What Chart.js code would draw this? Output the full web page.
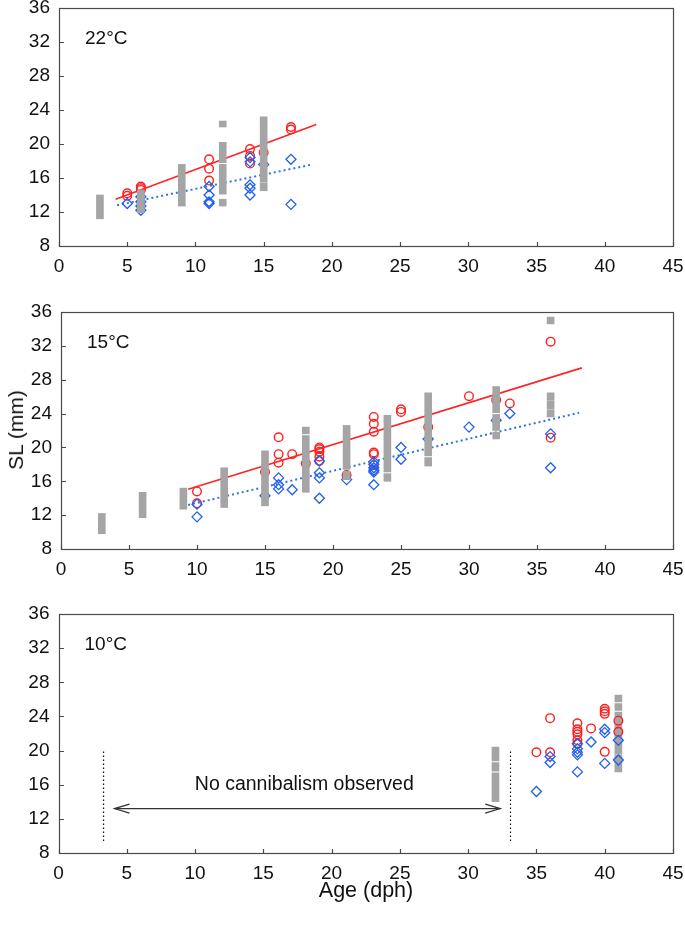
<!DOCTYPE html>
<html>
<head>
<meta charset="utf-8">
<script src="https://cdn.jsdelivr.net/npm/chart.js@4.4.1/dist/chart.umd.min.js"></script>
<style>
  html, body { margin: 0; padding: 0; background: #fff; }
  body { width: 685px; height: 926px; position: relative; overflow: hidden;
         font-family: 'Liberation Sans', Arial, Helvetica, sans-serif; color: #111; }
  canvas { position: absolute; left: 0; }
  #ytitle { position: absolute; left: 16px; top: 430px; transform: translate(-50%, -50%) rotate(-90deg);
            font-size: 21px; white-space: nowrap; }
  #xtitle { position: absolute; left: 366px; top: 890px; transform: translate(-50%, -50%);
            font-size: 21.5px; white-space: nowrap; }
</style>
</head>
<body>
<canvas id="c1" width="685" height="303" style="top:0px"></canvas>
<canvas id="c2" width="685" height="303" style="top:303px"></canvas>
<canvas id="c3" width="685" height="320" style="top:606px"></canvas>
<div id="ytitle">SL (mm)</div>
<div id="xtitle">Age (dph)</div>
<script>
// ---------- tick labels ----------
const xTickValues = [0, 5, 10, 15, 20, 25, 30, 35, 40, 45];
const yTickValues = [8, 12, 16, 20, 24, 28, 32, 36];
const panelLabels = ['22°C', '15°C', '10°C'];

// ---------- 22 °C ----------
const gray22Age  = [3, 6, 9, 12, 12, 12, 12, 15, 15];
const gray22Low  = [11.2, 11.9, 12.7, 12.7, 14.1, 17.8, 22.0, 14.5, 15.5];
const gray22High = [14.0, 14.6, 17.6, 13.5, 17.6, 20.2, 22.7, 15.4, 23.2];
const red22Age  = [5, 5, 6, 6, 6, 11, 11, 11, 14, 14, 14, 15, 17, 17];
const red22SL   = [13.9, 14.2, 14.6, 14.8, 15.0, 18.2, 17.1, 15.7, 19.4, 18.6, 17.7, 19.0, 22.0, 21.7];
const blue22Age = [5, 6, 6, 6, 6, 11, 11, 11, 11, 14, 14, 14, 14, 14, 15, 17, 17];
const blue22SL  = [13.0, 12.2, 12.7, 13.2, 13.8, 15.0, 14.0, 13.2, 13.0, 18.4, 17.9, 15.2, 14.8, 14.0, 17.6, 18.2, 12.9];
const redFit22Age  = [4.15, 18.85];
const redFit22SL   = [13.5, 22.3];
const blueFit22Age = [4.26, 18.6];
const blueFit22SL  = [12.8, 17.6];

// ---------- 15 °C ----------
const gray15Age  = [3, 6, 9, 12, 15, 18, 18, 21, 21, 24, 24, 27, 27, 32, 32, 32, 36, 36, 36, 36];
const gray15Low  = [9.8, 11.7, 12.7, 12.9, 13.1, 14.7, 21.6, 16.2, 17.4, 16.0, 17.1, 17.8, 19.0, 21.0, 22.0, 24.1, 23.6, 24.55, 25.55, 34.6];
const gray15High = [12.2, 14.7, 15.2, 17.6, 19.6, 21.4, 22.4, 17.2, 22.6, 16.9, 23.8, 18.8, 26.45, 21.8, 23.9, 27.2, 24.45, 25.45, 26.45, 35.4];
const red15Age  = [10, 10, 15, 16, 16, 16, 17, 18, 19, 19, 19, 19, 19, 21, 23, 23, 23, 23, 23, 23, 25, 25, 27, 30, 32, 33, 36, 36];
const red15SL   = [14.8, 13.4, 17.1, 21.2, 19.2, 18.2, 19.2, 18.1, 20.0, 19.8, 19.5, 18.9, 18.4, 16.75, 23.6, 22.8, 21.85, 19.4, 19.2, 17.9, 24.5, 24.2, 22.4, 26.05, 25.6, 25.2, 32.5, 21.15];
const blue15Age = [10, 10, 15, 16, 16, 16, 17, 19, 19, 19, 19, 21, 23, 23, 23, 23, 23, 23, 25, 25, 27, 30, 32, 33, 36, 36];
const blue15SL  = [13.3, 11.8, 14.3, 16.4, 15.6, 15.1, 15.0, 18.4, 17.0, 16.4, 14.0, 16.2, 18.3, 18.0, 17.6, 17.3, 17.1, 15.6, 20.0, 18.6, 21.0, 22.4, 23.2, 24.0, 21.6, 17.6];
const redFit15Age  = [9.35, 38.3];
const redFit15SL   = [15.07, 29.4];
const blueFit15Age = [9.35, 38.1];
const blueFit15SL  = [13.2, 24.1];

// ---------- 10 °C ----------
const gray10Age  = [32, 32, 32, 41, 41, 41, 41];
const gray10Low  = [14.0, 17.6, 18.8, 17.5, 19.6, 24.7, 25.7];
const gray10High = [17.4, 18.6, 20.4, 19.5, 24.5, 25.5, 26.5];
const red10Age  = [35, 36, 36, 38, 38, 38, 38, 38, 38, 39, 40, 40, 40, 40, 41, 41];
const red10SL   = [19.8, 23.8, 19.8, 23.2, 22.5, 22.2, 21.9, 21.2, 20.8, 22.6, 24.9, 24.6, 24.3, 19.85, 23.5, 22.2];
const blue10Age = [35, 36, 36, 38, 38, 38, 38, 38, 39, 40, 40, 40, 41, 41];
const blue10SL  = [15.2, 19.3, 18.6, 20.8, 20.2, 19.8, 19.5, 17.5, 21.0, 22.5, 22.1, 18.5, 21.2, 18.9];

// ---------- 10 °C annotation ----------
const noObsLineAge = [3.3, 33.1];
const noObsLineSL  = [9.4, 20.0];
const arrowAge = [4.1, 32.35];
const arrowSL  = 13.2;
const noteText = 'No cannibalism observed';
const noteAge  = 18;
const noteSL   = 15.35;

// ---------- helpers ----------
const FONT = "'Liberation Sans', Arial, Helvetica, sans-serif";
const pts  = (xs, ys) => xs.map((x, i) => ({ x: x, y: ys[i] }));
const rng  = (xs, lo, hi) => xs.map((x, i) => ({ x: x, y: [lo[i], hi[i]] }));

const framePlugin = {
  id: 'frame',
  afterDraw(chart, args, opts) {
    const { ctx, chartArea: a } = chart;
    const xs = chart.scales.x, ys = chart.scales.y;
    ctx.save();
    // annotation (10 °C)
    if (opts.note) {
      const py = ys.getPixelForValue(arrowSL);
      const l = xs.getPixelForValue(arrowAge[0]);
      const r = xs.getPixelForValue(arrowAge[1]);
      ctx.strokeStyle = '#333'; ctx.lineWidth = 1.2; ctx.setLineDash([]);
      ctx.beginPath();
      ctx.moveTo(l + 15, py - 4.5); ctx.lineTo(l, py); ctx.lineTo(l + 15, py + 4.5);
      ctx.moveTo(r - 15, py - 4.5); ctx.lineTo(r, py); ctx.lineTo(r - 15, py + 4.5);
      ctx.stroke();
      ctx.fillStyle = '#111';
      ctx.font = '19.5px ' + FONT;
      ctx.textAlign = 'center'; ctx.textBaseline = 'alphabetic';
      ctx.fillText(noteText, xs.getPixelForValue(noteAge), ys.getPixelForValue(noteSL));
    }
    // frame
    ctx.strokeStyle = '#4a4a4a'; ctx.lineWidth = 1.2; ctx.setLineDash([]);
    const L = Math.round(a.left) + 0.5, T = Math.round(a.top) + 0.5;
    const R = Math.round(a.right) + 0.5, B = Math.round(a.bottom) + 0.5;
    ctx.strokeRect(L, T, R - L, B - T);
    // inward ticks
    ctx.beginPath();
    xTickValues.forEach(v => {
      const px = Math.round(xs.getPixelForValue(v)) + 0.5;
      ctx.moveTo(px, B); ctx.lineTo(px, B - 4.5);
    });
    yTickValues.forEach(v => {
      const py = Math.round(ys.getPixelForValue(v)) + 0.5;
      ctx.moveTo(L, py); ctx.lineTo(L + 4.5, py);
    });
    ctx.stroke();
    // panel label
    ctx.fillStyle = '#111';
    ctx.font = '19px ' + FONT;
    ctx.textAlign = 'left'; ctx.textBaseline = 'alphabetic';
    ctx.fillText(opts.label, a.left + 26, a.top + 36);
    ctx.restore();
  }
};

function makePanel(id, p) {
  const datasets = [];
  datasets.push({
    type: 'bar', data: rng(p.grayAge, p.grayLow, p.grayHigh),
    backgroundColor: '#a5a5a5', borderWidth: 0, barThickness: 7, grouped: false,
    order: p.markersOnTop ? 5 : 0
  });
  if (p.redFitAge) {
    datasets.push({
      type: 'line', data: pts(p.redFitAge, p.redFitSL), borderColor: '#ff2424',
      borderWidth: 1.6, pointRadius: 0, fill: false, tension: 0, order: 1
    });
    datasets.push({
      type: 'line', data: pts(p.blueFitAge, p.blueFitSL), borderColor: '#2f72e6',
      borderWidth: 2, borderDash: [2, 3], pointRadius: 0, fill: false, tension: 0, order: 1
    });
  }
  datasets.push({
    type: 'scatter', data: pts(p.redAge, p.redSL), pointStyle: 'circle',
    pointRadius: 4.3, pointHoverRadius: 4.3, pointBorderWidth: 1.4,
    pointBorderColor: '#ff1f1f', pointBackgroundColor: 'rgba(255,255,255,0)',
    order: p.markersOnTop ? 1 : 3
  });
  datasets.push({
    type: 'scatter', data: pts(p.blueAge, p.blueSL), pointStyle: 'rectRot',
    pointRadius: 5, pointHoverRadius: 5, pointBorderWidth: 1.3,
    pointBorderColor: '#1f5ff0', pointBackgroundColor: 'rgba(255,255,255,0)',
    order: p.markersOnTop ? 0.5 : 2
  });
  if (p.note) {
    noObsLineAge.forEach(a => {
      datasets.push({
        type: 'line', data: pts([a, a], noObsLineSL), borderColor: '#111',
        borderWidth: 1.2, borderDash: [1.5, 2.5], pointRadius: 0, fill: false, order: 2
      });
    });
    datasets.push({
      type: 'line', data: pts(arrowAge, [arrowSL, arrowSL]), borderColor: '#333',
      borderWidth: 1.2, pointRadius: 0, fill: false, order: 2
    });
  }
  const canvasH = document.getElementById(id).height;
  return new Chart(document.getElementById(id), {
    type: 'bar',
    data: { datasets: datasets },
    options: {
      responsive: false, animation: false, devicePixelRatio: 1, events: [],
      layout: { padding: { top: p.top, right: 12, left: 0, bottom: 0 } },
      plugins: { legend: { display: false }, tooltip: { enabled: false },
                 frame: { label: p.label, note: !!p.note } },
      scales: {
        x: {
          type: 'linear', min: 0, max: 45, offset: false,
          grid: { display: false, drawTicks: false }, border: { display: false },
          afterBuildTicks: s => { s.ticks = xTickValues.map(v => ({ value: v })); },
          ticks: { font: { size: 19, family: FONT }, color: '#111', padding: 9,
                   maxRotation: 0, autoSkip: false },
          afterFit: s => { s.height = canvasH - p.bottom; s.paddingLeft = 0; s.paddingRight = 0; }
        },
        y: {
          type: 'linear', min: 8, max: 36,
          grid: { display: false, drawTicks: false }, border: { display: false },
          afterBuildTicks: s => { s.ticks = yTickValues.map(v => ({ value: v })); },
          ticks: { font: { size: 19, family: FONT }, color: '#111', padding: 9, autoSkip: false },
          afterFit: s => { s.width = p.left; s.paddingTop = 0; s.paddingBottom = 0; }
        }
      }
    },
    plugins: [framePlugin]
  });
}

makePanel('c1', {
  label: panelLabels[0], top: 8, bottom: 246, left: 59,
  grayAge: gray22Age, grayLow: gray22Low, grayHigh: gray22High,
  redAge: red22Age, redSL: red22SL, blueAge: blue22Age, blueSL: blue22SL,
  redFitAge: redFit22Age, redFitSL: redFit22SL, blueFitAge: blueFit22Age, blueFitSL: blueFit22SL
});
makePanel('c2', {
  label: panelLabels[1], top: 9, bottom: 246, left: 61,
  grayAge: gray15Age, grayLow: gray15Low, grayHigh: gray15High,
  redAge: red15Age, redSL: red15SL, blueAge: blue15Age, blueSL: blue15SL,
  redFitAge: redFit15Age, redFitSL: redFit15SL, blueFitAge: blueFit15Age, blueFitSL: blueFit15SL
});
makePanel('c3', {
  label: panelLabels[2], top: 8, bottom: 247, left: 58.5, markersOnTop: true, note: true,
  grayAge: gray10Age, grayLow: gray10Low, grayHigh: gray10High,
  redAge: red10Age, redSL: red10SL, blueAge: blue10Age, blueSL: blue10SL
});
</script>
</body>
</html>
